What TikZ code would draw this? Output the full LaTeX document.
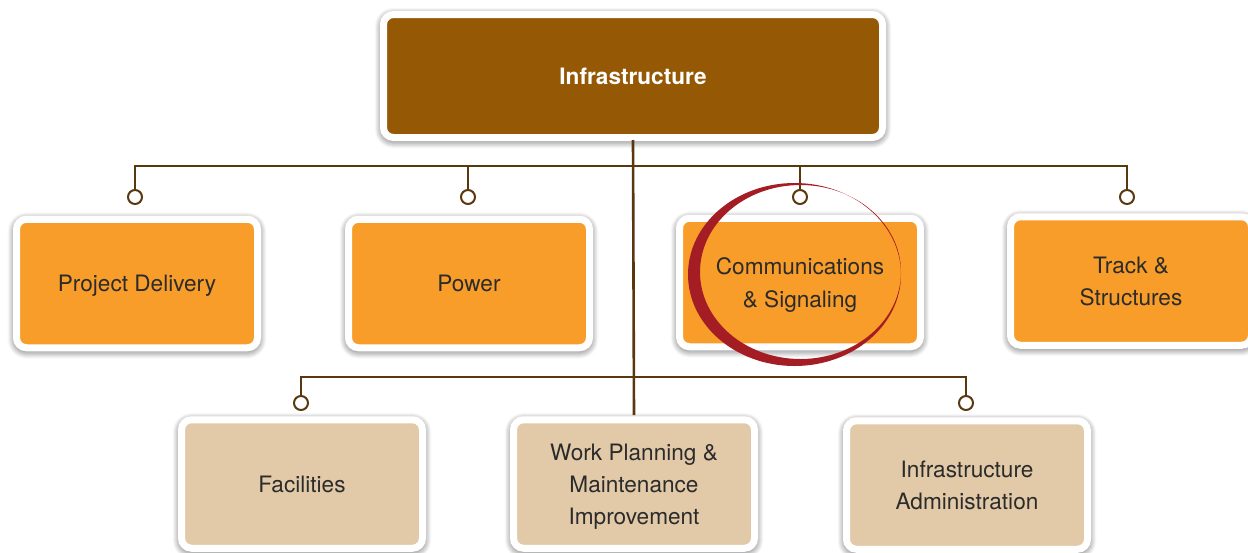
\documentclass[tikz,border=0pt]{standalone}
\usepackage{fontspec}
\setmainfont{TeX Gyre Heros}
\usepackage{xcolor}
\usepackage{tikz}
\usetikzlibrary{shadows.blur}

\definecolor{infrabrown}{HTML}{955804}
\definecolor{unitorange}{HTML}{F89D29}
\definecolor{supporttan}{HTML}{E2CAA8}
\definecolor{barbrown}{HTML}{5A380F}
\definecolor{ringred}{HTML}{A51D24}
\definecolor{labelgray}{HTML}{2B2B2B}

\tikzset{
  unitbox/.style={draw=white, line width=7pt, rounded corners=10pt,
    minimum width=241pt, minimum height=128.5pt, align=center, text depth=0pt,
    text=labelgray, font=\fontsize{22.6}{32.2}\selectfont,
    blur shadow={shadow xshift=0pt, shadow yshift=-2pt, shadow blur steps=12,
      shadow opacity=80, shadow blur radius=9pt}},
  knob/.style={circle, draw=barbrown, line width=2pt, fill=white,
    minimum size=14pt, inner sep=0pt},
  bar/.style={draw=barbrown, line width=2.6pt}
}

\begin{document}
\begin{tikzpicture}[x=1pt,y=1pt,yscale=-1,xscale=1]
\useasboundingbox (0,0) rectangle (1248,552);

\node (top) [unitbox, fill=infrabrown, text=white, minimum width=499pt, minimum height=123pt,
  font=\fontsize{22.6}{32.2}\selectfont\bfseries] at (633,76) {Infrastructure};

\node (pd) [unitbox, fill=unitorange] at (137,283.5) {Project Delivery};
\node (pw) [unitbox, fill=unitorange] at (469,283.5) {Power};
\node (cs) [unitbox, fill=unitorange] at (800,282.5) {Communications\\\& Signaling};
\node (ts) [unitbox, fill=unitorange] at (1131,281) {Track \&\\Structures};

\node (fa) [unitbox, fill=supporttan] at (302,484) {Facilities};
\node (wp) [unitbox, fill=supporttan] at (634,484) {Work Planning \&\\Maintenance\\Improvement};
\node (ad) [unitbox, fill=supporttan] at (967,485) {Infrastructure\\Administration};

\coordinate (upper) at (633,166);
\coordinate (lower) at (633,377);

\node (pdk) [knob] at (135,197) {};
\node (pwk) [knob] at (468,197) {};
\node (csk) [knob] at (800,197) {};
\node (tsk) [knob] at (1127,197) {};
\node (fak) [knob] at (301,403) {};
\node (adk) [knob] at (966,403) {};

\draw [bar] (top.south |- 0,140) -- (wp.north |- 0,415);
\draw [bar] (pdk.north) |- (upper) -| (tsk.north);
\draw [bar] (pwk.north) -- (pwk.north |- upper);
\draw [bar] (csk.north) -- (csk.north |- upper);
\draw [bar] (fak.north) |- (lower) -| (adk.north);

\fill [ringred, even odd rule] (794.5,274.5) ellipse [x radius=106.5, y radius=91.5]
  (800.5,272) ellipse [x radius=100.5, y radius=87];
\end{tikzpicture}
\end{document}
